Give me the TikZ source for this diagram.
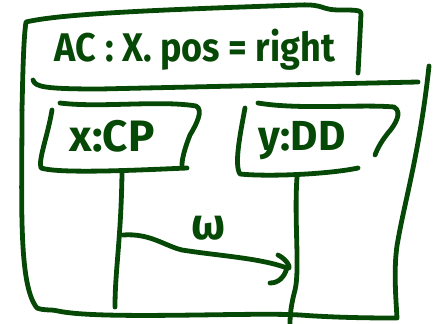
\documentclass[tikz,border=0pt]{standalone}
\usepackage{fontspec}
\setmainfont{Fira Sans}
\definecolor{ink}{RGB}{6,72,6}
\begin{document}
\begin{tikzpicture}[x=1pt,y=-1pt,
  pen/.style={draw=ink,line width=4.8pt,line cap=round,line join=round},
  lbl/.style={text=ink,font=\bfseries,inner sep=0pt}]
\useasboundingbox (0,0) rectangle (442,324);
% title box (part of outer frame)
\path[pen] (22,110) .. controls (23,60) and (24,35) .. (26,22)
  .. controls (60,14) and (150,10) .. (300,5)
  .. controls (325,4) and (320,10) .. (340,10)
  .. controls (355,10) and (362,10) .. (361,14)
  .. controls (360,35) and (359,55) .. (358,73);
% separator
\path[pen] (33,80) .. controls (35,87) and (45,89) .. (100,89) -- (418,82);
% outer left edge + bottom + right
\path[pen] (22,110) .. controls (22,200) and (18,285) .. (37,308)
  .. controls (45,311) and (50,309) .. (58,311)
  .. controls (100,320) and (250,312) .. (300,315)
  .. controls (340,318) and (380,318) .. (397,318)
  .. controls (396,300) and (393,265) .. (398,240)
  .. controls (405,200) and (420,150) .. (429,66);
% box x:CP
\path[pen] (60,103) .. controls (100,108) and (160,100) .. (196,106)
  .. controls (204,110) and (196,125) .. (190,135)
  .. controls (184,150) and (182,160) .. (182,165);
\path[pen] (52,110) .. controls (48,135) and (38,160) .. (41,168)
  .. controls (60,174) and (140,170) .. (187,168);
% box y:DD
\path[pen] (258,103) .. controls (300,110) and (360,104) .. (394,107)
  .. controls (403,112) and (395,125) .. (388,133)
  .. controls (380,143) and (377,150) .. (375,155);
\path[pen] (245,108) .. controls (240,135) and (234,165) .. (240,174)
  .. controls (270,177) and (330,174) .. (358,168);
% texts
\node[lbl,font=\bfseries\fontsize{40}{40}\selectfont] (title) at (195,50) {\scalebox{0.9}[1]{AC : X. pos = right}};
\node[lbl,font=\bfseries\fontsize{44}{44}\selectfont] (x) at (112,136) {x:CP};
\node[lbl,font=\bfseries\fontsize{42}{42}\selectfont] (y) at (302,141) {y:DD};
% lifelines
\coordinate (xt) at (122,173);
\coordinate (xb) at (115,307);
\coordinate (yt) at (297,177);
\coordinate (yb) at (290,324);
\path[pen] (xt) .. controls (121,240) and (115,270) .. (xb);
\path[pen] (yt) .. controls (294,220) and (300,270) .. (295,290) .. controls (291,305) and (290,315) .. (yb);
% message
\coordinate (ms) at (123,235);
\coordinate (me) at (287,268);
\path[pen] (ms) .. controls (150,233) and (165,246) .. (182,250)
  .. controls (220,256) and (260,258) .. (me);
\path[pen] (278,255) .. controls (288,260) and (292,270) .. (me) .. controls (284,278) and (278,283) .. (270,283);
\node[lbl,font=\bfseries\fontsize{44}{44}\selectfont] (w) at (209,228) {ω};
\end{tikzpicture}
\end{document}
